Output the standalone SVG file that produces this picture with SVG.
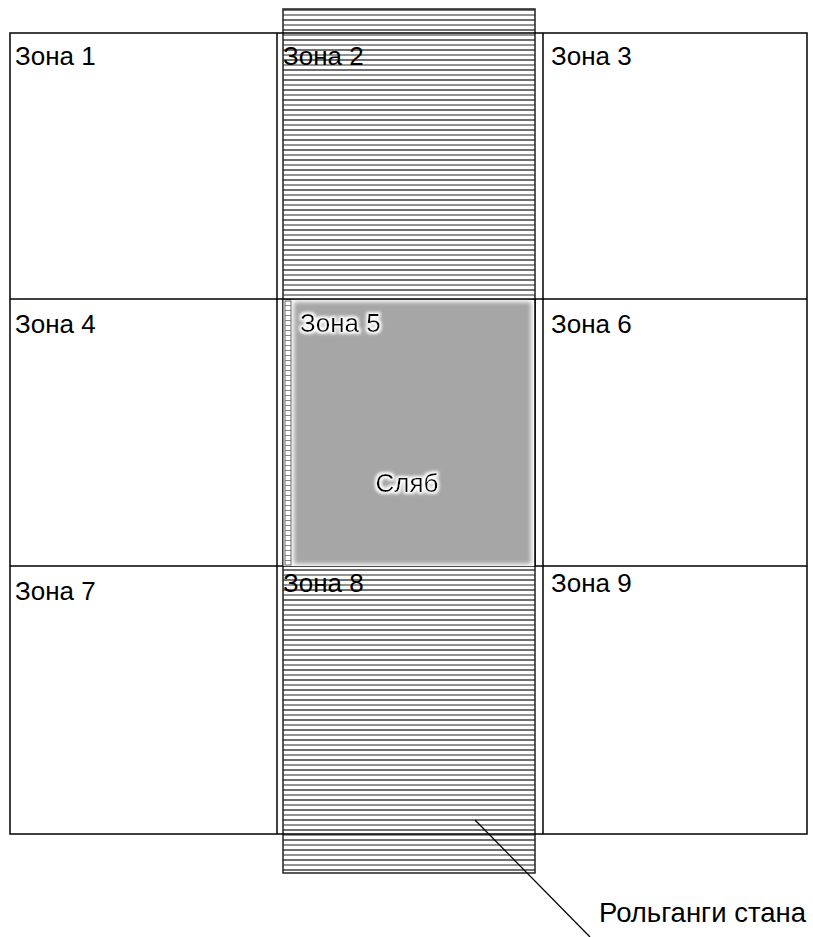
<svg xmlns="http://www.w3.org/2000/svg" width="813" height="937" viewBox="0 0 813 937">
<defs>
<pattern id="hatch" x="0" y="9" width="20" height="10" patternUnits="userSpaceOnUse">
<line x1="0" y1="1" x2="20" y2="1" stroke="#222" stroke-width="1.3"/>
<line x1="0" y1="6" x2="20" y2="6" stroke="#777" stroke-width="1.6"/>
</pattern>
<pattern id="hatch2" x="0" y="300" width="10" height="5" patternUnits="userSpaceOnUse">
<line x1="0" y1="0.5" x2="10" y2="0.5" stroke="#888" stroke-width="1"/>
</pattern>
<filter id="soft" x="-5%" y="-5%" width="110%" height="110%">
<feGaussianBlur stdDeviation="2"/>
</filter>
<filter id="halo" x="-20%" y="-40%" width="140%" height="180%">
<feMorphology in="SourceAlpha" operator="dilate" radius="1.5" result="d"/>
<feGaussianBlur in="d" stdDeviation="1.5" result="b"/>
<feFlood flood-color="#fff"/>
<feComposite in2="b" operator="in" result="w"/>
<feMerge><feMergeNode in="w"/><feMergeNode in="SourceGraphic"/></feMerge>
</filter>
</defs>
<style>
.t{font-family:"Liberation Sans",Arial,sans-serif;font-size:26px;fill:#000}
.big{font-size:27.5px}
.ln{stroke:#000;stroke-width:1.5;fill:none}
</style>
<rect width="813" height="937" fill="#fff"/>
<g id="roller-table">
<rect x="283" y="9" width="252" height="864" fill="url(#hatch)" stroke="#222" stroke-width="1.5"/>
</g>
<g id="grid">
<rect x="10" y="33" width="797" height="801" class="ln"/>
<line x1="10" y1="299" x2="807" y2="299" class="ln"/>
<line x1="10" y1="566" x2="807" y2="566" class="ln"/>
<line x1="277" y1="33" x2="277" y2="834" class="ln"/>
<line x1="543" y1="33" x2="543" y2="834" class="ln"/>
</g>
<g id="slab">
<rect x="283" y="300" width="252" height="266" fill="#fff"/>
<rect x="285" y="301" width="6" height="264" fill="url(#hatch2)" stroke="#666" stroke-width="1"/>
<rect x="294" y="302" width="237" height="262" fill="#a6a6a6" filter="url(#soft)"/>
<line x1="535" y1="299" x2="535" y2="566" class="ln"/>
<line x1="283" y1="299" x2="283" y2="566" stroke="#222" stroke-width="1"/>
<text class="t" x="407" y="492" text-anchor="middle" filter="url(#halo)">Сляб</text>
</g>
<g id="zone1"><text class="t" x="15" y="65">Зона 1</text></g>
<g id="zone2"><text class="t" x="283" y="65">Зона 2</text></g>
<g id="zone3"><text class="t" x="551" y="65">Зона 3</text></g>
<g id="zone4"><text class="t" x="15" y="333">Зона 4</text></g>
<g id="zone5"><text class="t" x="300" y="332" filter="url(#halo)">Зона 5</text></g>
<g id="zone6"><text class="t" x="551" y="333">Зона 6</text></g>
<g id="zone7"><text class="t" x="15" y="600">Зона 7</text></g>
<g id="zone8"><text class="t" x="283" y="592">Зона 8</text></g>
<g id="zone9"><text class="t" x="551" y="592">Зона 9</text></g>
<g id="connectors">
<line x1="475" y1="820" x2="590" y2="937" stroke="#000" stroke-width="1.3"/>
</g>
<g id="label"><text class="t big" x="599" y="922">Рольганги стана</text></g>
</svg>
